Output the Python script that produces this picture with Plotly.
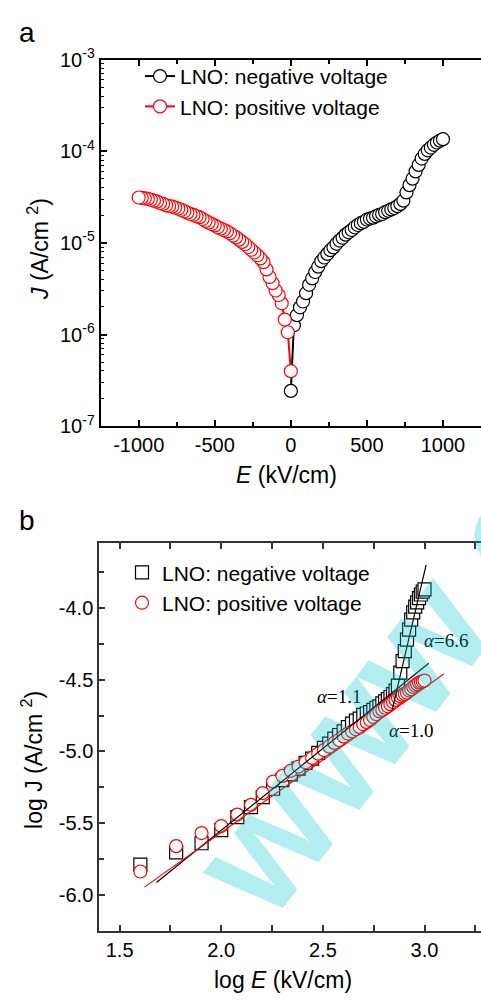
import numpy as np
import plotly.graph_objects as go

# ---------------- data ----------------
E_kVcm = [0, 20, 40, 60, 80, 100, 120, 140, 160, 180, 200, 220, 240, 260, 280, 300,
          320, 340, 360, 380, 400, 420, 440, 460, 480, 500, 520, 540, 560, 580, 600,
          620, 640, 660, 680, 700, 720, 740, 760, 780, 800, 820, 840, 860, 880, 900,
          920, 940, 960, 980, 1000]

# log10 J (A/cm^2), LNO negative voltage (black), plotted at +E
logJ_negative = [-6.615, -5.900, -5.789, -5.703, -5.640, -5.549, -5.458, -5.388, -5.318, -5.260,
                 -5.200, -5.160, -5.120, -5.080, -5.050, -5.010, -4.975, -4.945, -4.910, -4.885,
                 -4.860, -4.830, -4.805, -4.785, -4.770, -4.745, -4.735, -4.725, -4.710, -4.695,
                 -4.685, -4.665, -4.650, -4.635, -4.620, -4.600, -4.575, -4.540, -4.450, -4.370,
                 -4.300, -4.220, -4.150, -4.080, -4.030, -3.990, -3.960, -3.930, -3.905, -3.885,
                 -3.869]

# log10 J (A/cm^2), LNO positive voltage (red), plotted at -E
logJ_positive = [-6.400, -5.975, -5.837, -5.660, -5.569, -5.520, -5.440, -5.372, -5.290, -5.210,
                 -5.170, -5.135, -5.105, -5.075, -5.045, -5.015, -4.990, -4.965, -4.940, -4.920,
                 -4.895, -4.875, -4.860, -4.845, -4.830, -4.810, -4.795, -4.780, -4.760, -4.740,
                 -4.720, -4.710, -4.695, -4.685, -4.670, -4.655, -4.640, -4.625, -4.615, -4.605,
                 -4.598, -4.590, -4.575, -4.565, -4.550, -4.540, -4.530, -4.520, -4.515, -4.510,
                 -4.505]

# fitted lines (log E, log J end points)
fit_neg_low_x = [1.681, 3.021]
fit_neg_low_y = [-5.914, -4.384]
fit_neg_high_x = [2.840, 3.008]
fit_neg_high_y = [-4.717, -3.699]
fit_pos_x = [1.622, 3.095]
fit_pos_y = [-5.946, -4.459]

fit_labels = ["<i>α</i>=1.1", "<i>α</i>=6.6", "<i>α</i>=1.0"]

top_xtick_vals = [-1000, -500, 0, 500, 1000]
top_xtick_text = ["-1000", "-500", "0", "500", "1000"]
top_ytick_exp = [-7, -6, -5, -4, -3]
bot_xtick_vals = [1.5, 2.0, 2.5, 3.0]
bot_xtick_text = ["1.5", "2.0", "2.5", "3.0"]
bot_ytick_vals = [-6.0, -5.5, -5.0, -4.5, -4.0]
bot_ytick_text = ["-6.0", "-5.5", "-5.0", "-4.5", "-4.0"]

# ---------------- layout helpers ----------------
W, H = 481, 1004
def px(x):
    return x / W
def py(y):
    return 1 - y / H

FONT = "Liberation Sans, Arial, sans-serif"
SERIF = "Liberation Serif, Times New Roman, serif"

E = np.array(E_kVcm, dtype=float)
Jn = 10 ** np.array(logJ_negative)
Jp = 10 ** np.array(logJ_positive)

fig = go.Figure()

# top panel
fig.add_trace(go.Scatter(
    x=E, y=Jn, mode="lines+markers", name="LNO: negative voltage",
    line=dict(color="black", width=2),
    marker=dict(symbol="circle", size=13, color="white", line=dict(color="black", width=1.2)),
    xaxis="x", yaxis="y", legend="legend"))
fig.add_trace(go.Scatter(
    x=-E, y=Jp, mode="lines+markers", name="LNO: positive voltage",
    line=dict(color="red", width=2),
    marker=dict(symbol="circle", size=13, color="white", line=dict(color="red", width=1.2)),
    xaxis="x", yaxis="y", legend="legend"))

# bottom panel (log-log)
mask = E >= 40
logE = np.log10(E[mask])
fig.add_trace(go.Scatter(
    x=logE, y=np.array(logJ_negative)[mask], mode="markers", name="LNO: negative voltage",
    marker=dict(symbol="square", size=13, color="white", line=dict(color="black", width=1.2)),
    xaxis="x2", yaxis="y2", legend="legend2"))
fig.add_trace(go.Scatter(
    x=logE, y=np.array(logJ_positive)[mask], mode="markers", name="LNO: positive voltage",
    marker=dict(symbol="circle", size=13, color="white", line=dict(color="red", width=1.2)),
    xaxis="x2", yaxis="y2", legend="legend2"))
for fx, fy, col in [(fit_neg_low_x, fit_neg_low_y, "black"),
                    (fit_neg_high_x, fit_neg_high_y, "black"),
                    (fit_pos_x, fit_pos_y, "red")]:
    fig.add_trace(go.Scatter(x=fx, y=fy, mode="lines", line=dict(color=col, width=1.2),
                             showlegend=False, xaxis="x2", yaxis="y2", hoverinfo="skip"))

tickfont = dict(family=FONT, size=20, color="black")

minor_log = [k * 10.0 ** p for p in range(-7, -3) for k in range(2, 10)]

fig.update_layout(
    width=W, height=H,
    margin=dict(l=0, r=0, t=0, b=0),
    paper_bgcolor="white", plot_bgcolor="white",
    xaxis=dict(domain=[px(100.7), 1.0], range=[-1250, 1250], anchor="y",
               showline=True, linecolor="black", linewidth=2, mirror="ticks",
               ticks="inside", ticklen=6, tickwidth=1.5, tickcolor="black",
               tickmode="array", tickvals=top_xtick_vals, ticktext=top_xtick_text,
               minor=dict(ticks="inside", ticklen=4, tickwidth=1.5, tickcolor="black",
                          tickmode="array", tickvals=[-1250, -750, -250, 250, 750, 1250]),
               showgrid=False, zeroline=False, tickfont=tickfont),
    yaxis=dict(domain=[py(422.7), py(46.7)], type="log", range=[-7, -3], anchor="x",
               showline=True, linecolor="black", linewidth=2, mirror=False,
               ticks="inside", ticklen=6, tickwidth=1.5, tickcolor="black",
               tickmode="array", tickvals=[10.0 ** p for p in top_ytick_exp],
               ticktext=["10<sup>%d</sup>" % p for p in top_ytick_exp],
               minor=dict(ticks="inside", ticklen=3, tickwidth=1.2, tickcolor="black",
                          tickmode="array", tickvals=minor_log),
               showgrid=False, zeroline=False, tickfont=tickfont),
    xaxis2=dict(domain=[px(99.3), 1.0], range=[1.4, 3.278], anchor="y2",
                showline=True, linecolor="#333333", linewidth=2, mirror="ticks",
                ticks="inside", ticklen=6, tickwidth=1.5, tickcolor="#333333",
                tickmode="array", tickvals=bot_xtick_vals, ticktext=bot_xtick_text,
                minor=dict(ticks="inside", ticklen=6, tickwidth=1.5, tickcolor="#333333",
                           tickmode="array", tickvals=[1.75, 2.25, 2.75, 3.25]),
                showgrid=False, zeroline=False, tickfont=tickfont),
    yaxis2=dict(domain=[py(940.7), py(542.7)], range=[-6.254, -3.547], anchor="x2",
                showline=True, linecolor="#333333", linewidth=2, mirror=False,
                ticks="inside", ticklen=6, tickwidth=1.5, tickcolor="#333333",
                tickmode="array", tickvals=bot_ytick_vals, ticktext=bot_ytick_text,
                minor=dict(ticks="inside", ticklen=5, tickwidth=1.5, tickcolor="#333333",
                           tickmode="array", tickvals=[-6.25, -5.75, -5.25, -4.75, -4.25, -3.75]),
                showgrid=False, zeroline=False, tickfont=tickfont),
    legend=dict(x=px(140), y=py(43), xanchor="left", yanchor="top",
                bgcolor="rgba(0,0,0,0)", font=dict(family=FONT, size=21, color="black"),
                tracegroupgap=0, itemwidth=30),
    legend2=dict(x=px(122), y=py(552), xanchor="left", yanchor="top",
                 bgcolor="rgba(0,0,0,0)", font=dict(family=FONT, size=21, color="black"),
                 tracegroupgap=0, itemwidth=30),
    showlegend=True,
)

def A(text, x, y, size, family=FONT, angle=0, color="black"):
    return dict(text=text, x=px(x), y=py(y), xref="paper", yref="paper",
                xanchor="center", yanchor="middle", showarrow=False, textangle=angle,
                font=dict(family=family, size=size, color=color))

ann = [
    A("<i>E</i> (kV/cm)", 286, 473, 23),
    A("log <i>E</i> (kV/cm)", 283, 991, 23),
    A("<i>J</i> (A/cm <sup>2</sup>)", 38, 241, 23, angle=-90),
    A("log J (A/cm <sup>2</sup>)", 32, 765, 23, angle=-90),
    A("a", 27, 19, 28),
    A("b", 27, 519, 28),
]
for t, (xx, yy) in zip(fit_labels, [(339, 700), (446, 643), (411, 735)]):
    ann.append(A(t, xx, yy, 19, family=SERIF))
# watermark
ann.append(A("<b>www.c</b>", 380, 697, 160, angle=-52, color="rgba(0,195,205,0.3)"))
fig.update_layout(annotations=ann)

fig.write_html("out.html", config={"displayModeBar": False},
               post_script="document.body.style.margin='0';document.body.style.overflow='hidden';")
